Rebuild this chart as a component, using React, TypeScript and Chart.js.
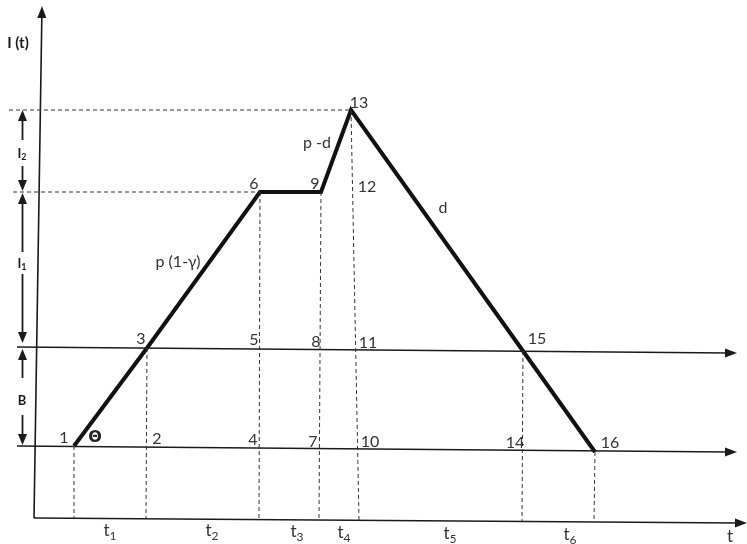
import React, { useEffect, useRef } from "react";
import { Chart, registerables } from "chart.js";

Chart.register(...registerables);

// Diagram coordinates (x to the right, y downward)
const pathX = [74, 147, 260, 321, 351, 523, 595];
const pathY = [446, 348, 192, 192, 110, 351, 452];

// Solid axes / level lines: [x0, y0, x1, y1] with arrow at the end
const axisLines = [
  [34, 518, 42, 6],
  [34, 518, 747, 523],
  [17, 446, 737, 452],
  [17, 347, 737, 353],
];

// Dashed guide lines: [x0, y0, x1, y1]
const dashedLines = [
  [9, 110, 351, 110],
  [13, 192, 260, 192],
  [74, 446, 74, 518],
  [147, 348, 146, 518],
  [260, 192, 259, 519],
  [321, 192, 319, 519],
  [351, 110, 359, 520],
  [523, 351, 522, 521],
  [595, 452, 594, 522],
];

// Left dimension arrows: [x, tipTop, shaftTopEnd, shaftBottomStart, tipBottom]
const dimArrows = [
  [22.5, 110, 140, 166, 191],
  [22.5, 193, 252, 274, 343],
  [22.5, 349, 378, 415, 445],
];
const dimLabels = [
  { text: "I", sub: "2", x: 22, y: 154 },
  { text: "I", sub: "1", x: 22, y: 264 },
  { text: "B", sub: "", x: 22, y: 401 },
];

const pointLabels = [
  { text: "1", x: 64, y: 438 },
  { text: "2", x: 157, y: 439 },
  { text: "4", x: 253, y: 440 },
  { text: "7", x: 313, y: 442 },
  { text: "10", x: 370, y: 442 },
  { text: "14", x: 515, y: 443 },
  { text: "16", x: 610, y: 443 },
  { text: "3", x: 141, y: 339 },
  { text: "5", x: 254, y: 340 },
  { text: "8", x: 316, y: 342 },
  { text: "11", x: 368, y: 343 },
  { text: "15", x: 537, y: 339 },
  { text: "6", x: 254, y: 184 },
  { text: "9", x: 315, y: 184 },
  { text: "12", x: 367, y: 187 },
  { text: "13", x: 359, y: 103 },
  { text: "p -d", x: 317, y: 143 },
  { text: "d", x: 443, y: 208 },
  { text: "p (1-γ)", x: 178, y: 262 },
];

const timeLabels = [
  { sub: "1", x: 110, y: 531 },
  { sub: "2", x: 212, y: 531 },
  { sub: "3", x: 297, y: 532 },
  { sub: "4", x: 344, y: 533 },
  { sub: "5", x: 450, y: 534 },
  { sub: "6", x: 570, y: 535 },
];

const seg = (l: number[]) => [
  { x: l[0], y: l[1] },
  { x: l[2], y: l[3] },
];

export default function App() {
  const ref = useRef<HTMLCanvasElement | null>(null);

  useEffect(() => {
    if (!ref.current) return;
    const datasets: any[] = [];
    dashedLines.forEach((l) =>
      datasets.push({
        data: seg(l),
        showLine: true,
        borderColor: "#333",
        borderWidth: 1,
        borderDash: [4, 3],
        pointRadius: 0,
      })
    );
    axisLines.forEach((l) => {
      const dx = l[2] - l[0];
      const dy = l[3] - l[1];
      const len = Math.hypot(dx, dy);
      const cut = 8 / len;
      datasets.push({
        data: [
          { x: l[0], y: l[1] },
          { x: l[2] - dx * cut, y: l[3] - dy * cut },
        ],
        showLine: true,
        borderColor: "#1a1a1a",
        borderWidth: 1.6,
        pointRadius: 0,
      });
    });
    dimArrows.forEach((a) => {
      datasets.push({
        data: [
          { x: a[0], y: a[1] + 8 },
          { x: a[0], y: a[2] },
        ],
        showLine: true,
        borderColor: "#1a1a1a",
        borderWidth: 1.8,
        pointRadius: 0,
      });
      datasets.push({
        data: [
          { x: a[0], y: a[3] },
          { x: a[0], y: a[4] - 8 },
        ],
        showLine: true,
        borderColor: "#1a1a1a",
        borderWidth: 1.8,
        pointRadius: 0,
      });
    });
    datasets.push({
      data: pathX.map((x, i) => ({ x, y: pathY[i] })),
      showLine: true,
      borderColor: "#111",
      borderWidth: 4,
      borderJoinStyle: "miter",
      pointRadius: 0,
    });

    const annot = {
      id: "annot",
      afterDraw(chart: any) {
        const ctx = chart.ctx as CanvasRenderingContext2D;
        const xs = chart.scales.x;
        const ys = chart.scales.y;
        const px = (v: number) => xs.getPixelForValue(v);
        const py = (v: number) => ys.getPixelForValue(v);
        const arrow = (x0: number, y0: number, x1: number, y1: number, L: number, W: number) => {
          const ax = px(x0), ay = py(y0), bx = px(x1), by = py(y1);
          const ang = Math.atan2(by - ay, bx - ax);
          ctx.save();
          ctx.fillStyle = "#1a1a1a";
          ctx.beginPath();
          ctx.moveTo(bx, by);
          ctx.lineTo(bx - L * Math.cos(ang) + W * Math.sin(ang), by - L * Math.sin(ang) - W * Math.cos(ang));
          ctx.lineTo(bx - L * Math.cos(ang) - W * Math.sin(ang), by - L * Math.sin(ang) + W * Math.cos(ang));
          ctx.closePath();
          ctx.fill();
          ctx.restore();
        };
        axisLines.forEach((l) => arrow(l[0], l[1], l[2], l[3], 12, 4.5));
        dimArrows.forEach((a) => {
          arrow(a[0], a[2], a[0], a[1], 11, 4.5);
          arrow(a[0], a[3], a[0], a[4], 11, 4.5);
        });

        ctx.save();
        ctx.textAlign = "center";
        ctx.textBaseline = "middle";
        ctx.fillStyle = "#333";
        ctx.font = "16px Lato, 'Open Sans', sans-serif";
        pointLabels.forEach((p) => ctx.fillText(p.text, px(p.x), py(p.y)));

        ctx.font = "bold 16px 'DejaVu Sans', sans-serif";
        ctx.fillStyle = "#222";
        ctx.fillText("Θ", px(95), py(438));

        // time labels with subscripts
        timeLabels.forEach((t) => {
          ctx.font = "17px Lato, sans-serif";
          const w1 = ctx.measureText("t").width;
          ctx.font = "12px Lato, sans-serif";
          const w2 = ctx.measureText(t.sub).width;
          const x0 = px(t.x) - (w1 + w2) / 2;
          ctx.textAlign = "left";
          ctx.fillStyle = "#333";
          ctx.font = "17px Lato, sans-serif";
          ctx.fillText("t", x0, py(t.y));
          ctx.font = "12px Lato, sans-serif";
          ctx.fillText(t.sub, x0 + w1, py(t.y) + 5);
        });
        ctx.textAlign = "center";
        ctx.font = "17px Lato, sans-serif";
        ctx.fillText("t", px(730), py(537));

        // bold left labels
        ctx.fillStyle = "#1a1a1a";
        ctx.font = "bold 15px Lato, sans-serif";
        ctx.fillText("I (t)", px(18), py(43));
        dimLabels.forEach((d) => {
          ctx.font = "bold 13px Lato, sans-serif";
          const w1 = ctx.measureText(d.text).width;
          ctx.font = "bold 9px Lato, sans-serif";
          const w2 = d.sub ? ctx.measureText(d.sub).width : 0;
          const x0 = px(d.x) - (w1 + w2) / 2;
          ctx.textAlign = "left";
          ctx.font = "bold 13px Lato, sans-serif";
          ctx.fillText(d.text, x0, py(d.y));
          if (d.sub) {
            ctx.font = "bold 9px Lato, sans-serif";
            ctx.fillText(d.sub, x0 + w1, py(d.y) + 3);
          }
        });
        ctx.restore();
      },
    };

    const chart = new Chart(ref.current, {
      type: "scatter",
      data: { datasets },
      options: {
        animation: false,
        responsive: false,
        maintainAspectRatio: false,
        layout: { padding: 0 },
        plugins: { legend: { display: false }, tooltip: { enabled: false } },
        scales: {
          x: { type: "linear", min: 0, max: 747, display: false },
          y: { type: "linear", min: 0, max: 544, reverse: true, display: false },
        },
      },
      plugins: [annot],
    });
    return () => chart.destroy();
  }, []);

  return (
    <div style={{ position: "absolute", left: 0, top: 0, width: 747, height: 544, background: "#fff" }}>
      <canvas ref={ref} width={747} height={544} style={{ width: 747, height: 544, display: "block" }} />
    </div>
  );
}
